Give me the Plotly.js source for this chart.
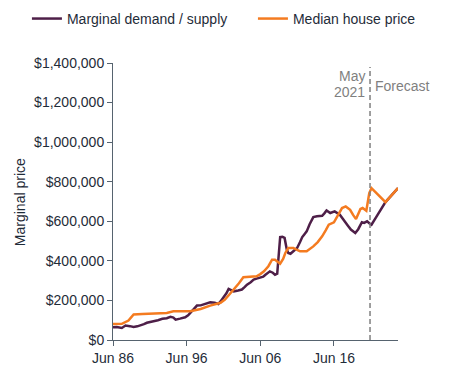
<!DOCTYPE html>
<html>
<head>
<meta charset="utf-8">
<script src="https://cdn.plot.ly/plotly-3.0.1.min.js"></script>
<style>html,body{margin:0;padding:0;background:#fff}#chart{width:450px;height:378px}</style>
</head>
<body>
<div id="chart"></div>
<script>
// Marginal demand / supply (decimal years, $)
var mdYears = [1986.5,1987.0,1987.7,1988.2,1988.8,1989.3,1989.8,1990.2,1990.7,1991.1,1991.6,1992.0,1992.6,1993.2,1993.8,1994.3,1994.7,1995.0,1995.6,1996.3,1996.7,1997.0,1997.5,1997.9,1998.4,1998.8,1999.3,1999.7,2000.3,2000.8,2001.1,2001.5,2001.9,2002.2,2002.6,2002.9,2003.5,2004.0,2004.4,2004.7,2005.2,2005.6,2006.0,2006.5,2006.9,2007.2,2007.5,2007.8,2008.2,2008.5,2008.8,2009.0,2009.2,2009.5,2009.8,2010.1,2010.3,2010.6,2011.0,2011.5,2011.9,2012.2,2012.5,2012.8,2013.2,2013.7,2014.2,2014.9,2015.2,2015.5,2016.0,2016.6,2017.3,2017.7,2018.0,2018.4,2018.8,2019.1,2019.4,2019.8,2020.3,2020.6,2021.0,2021.3,2021.6,2022.3,2023.5,2025.2];
var mdValues = [65000,66000,61000,73000,70000,66000,69000,73000,80000,87000,90000,95000,100000,107000,110000,117000,113000,103000,108000,115000,125000,137000,158000,174000,175000,179000,185000,191000,188000,182000,195000,213000,236000,258000,250000,246000,250000,255000,268000,280000,292000,305000,310000,314000,320000,330000,338000,347000,340000,330000,335000,430000,520000,522000,516000,457000,440000,436000,450000,465000,495000,520000,535000,549000,585000,621000,625000,628000,640000,655000,642000,650000,633000,615000,600000,578000,558000,548000,541000,560000,595000,592000,600000,590000,583000,625000,697000,768000];
// Median house price (decimal years, $)
var hpYears = [1986.5,1987.7,1988.6,1989.3,1990.5,1991.6,1992.7,1993.8,1994.7,1995.8,1997.0,1998.4,1999.7,2001.1,2001.7,2002.3,2002.9,2003.6,2004.2,2005.0,2006.0,2006.5,2007.0,2007.6,2008.1,2008.5,2008.9,2009.2,2009.6,2009.9,2010.3,2011.0,2011.5,2011.9,2012.8,2013.2,2013.7,2014.3,2014.9,2015.4,2015.8,2016.5,2017.1,2017.6,2018.1,2018.7,2019.1,2019.5,2020.1,2020.4,2020.9,2021.3,2021.6,2023.5,2025.2];
var hpValues = [81000,82000,98000,129000,131000,132000,135000,137000,145000,145000,145000,157000,174000,188000,204000,230000,255000,287000,317000,318000,322000,333000,347000,373000,406000,406000,395000,386000,410000,440000,465000,465000,455000,448000,448000,458000,473000,495000,524000,555000,583000,595000,633000,667000,675000,658000,632000,611000,662000,667000,653000,743000,768000,697000,768000];
var tickVals = [1986.5,1996.5,2006.5,2016.5];
var tickLabels = ['Jun 86','Jun 96','Jun 06','Jun 16'];
var yTicks = [0,200000,400000,600000,800000,1000000,1200000,1400000];
var yTickLabels = ['$0','$200,000','$400,000','$600,000','$800,000','$1,000,000','$1,200,000','$1,400,000'];
var forecastStart = 2021.4;

var txt = '#1f2c39';
var axc = '#56636f';
var grey = '#7f7f7f';
var fnt = 'Liberation Sans, Arial, sans-serif';

var traces = [
  {x: mdYears, y: mdValues, type: 'scatter', mode: 'lines', name: 'Marginal demand / supply',
   legend: 'legend', line: {color: '#4e1f48', width: 2.5}},
  {x: hpYears, y: hpValues, type: 'scatter', mode: 'lines', name: 'Median house price',
   legend: 'legend2', line: {color: '#f47b20', width: 2.5}}
];

var legBase = {orientation: 'h', xanchor: 'left', y: 1.159, yanchor: 'middle',
               font: {family: fnt, size: 14, color: txt}, itemwidth: 30, bgcolor: 'rgba(0,0,0,0)'};

var layout = {
  width: 450, height: 378,
  margin: {l: 113, r: 52, t: 63, b: 38, autoexpand: false},
  paper_bgcolor: '#fff', plot_bgcolor: '#fff',
  font: {family: fnt, size: 14, color: txt},
  showlegend: true,
  legend: Object.assign({}, legBase, {x: -0.302}),
  legend2: Object.assign({}, legBase, {x: 0.491}),
  xaxis: {range: [1986.5, 2025.2], tickvals: tickVals, ticktext: tickLabels,
          showgrid: false, zeroline: false, showline: true, linecolor: axc, linewidth: 1,
          ticks: 'outside', ticklen: 5, tickcolor: axc, tickfont: {size: 14, color: txt}},
  yaxis: {range: [0, 1400000], tickvals: yTicks, ticktext: yTickLabels,
          showgrid: false, zeroline: false, showline: true, linecolor: axc, linewidth: 1,
          ticks: 'outside', ticklen: 5, tickcolor: axc, tickfont: {size: 14, color: txt}},
  shapes: [
    {type: 'line', xref: 'x', yref: 'paper', x0: forecastStart, x1: forecastStart, y0: 0, y1: 0.986,
     line: {color: grey, width: 1.5, dash: '5px,3px'}}
  ],
  annotations: [
    {xref: 'paper', yref: 'paper', x: -0.326, y: 0.498, xanchor: 'center', yanchor: 'middle',
     text: 'Marginal price', textangle: -90, showarrow: false, font: {family: fnt, size: 14, color: txt}},
    {xref: 'x', yref: 'paper', x: forecastStart, y: 0.953, xanchor: 'right', yanchor: 'middle', xshift: -3,
     text: 'May', showarrow: false, font: {family: fnt, size: 14, color: grey}},
    {xref: 'x', yref: 'paper', x: forecastStart, y: 0.895, xanchor: 'right', yanchor: 'middle', xshift: -3,
     text: '2021', showarrow: false, font: {family: fnt, size: 14, color: grey}},
    {xref: 'x', yref: 'paper', x: forecastStart, y: 0.917, xanchor: 'left', yanchor: 'middle', xshift: 3,
     text: 'Forecast', showarrow: false, font: {family: fnt, size: 14, color: grey}}
  ]
};

Plotly.newPlot('chart', traces, layout, {displayModeBar: false, staticPlot: true});
</script>
</body>
</html>
